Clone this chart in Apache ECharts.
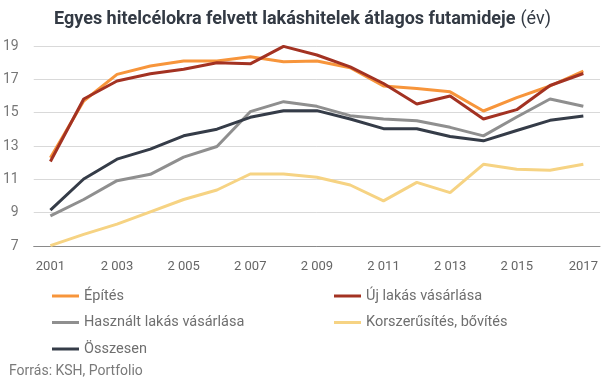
<!DOCTYPE html>
<html><head><meta charset="utf-8">
<script src="https://cdn.jsdelivr.net/npm/echarts@6/dist/echarts.min.js"></script>
<style>html,body{margin:0;padding:0;background:#fff}#c{width:605px;height:378px}</style>
</head><body><div id="c"></div>
<script>
const years = ['2001','2002','2003','2004','2005','2006','2007','2008','2009','2010','2011','2012','2013','2014','2015','2016','2017'];
const yearLabels = ['2001','2 002','2 003','2 004','2 005','2 006','2 007','2 008','2 009','2 010','2 011','2 012','2 013','2 014','2 015','2 016','2017'];
const epites = [12.3,15.7,17.3,17.8,18.1,18.1,18.35,18.05,18.1,17.7,16.6,16.45,16.25,15.1,15.9,16.6,17.5];
const ujLakas = [12.07,15.82,16.9,17.33,17.6,18.0,17.93,18.98,18.46,17.75,16.75,15.52,16.0,14.62,15.18,16.63,17.35];
const hasznalt = [8.81,9.79,10.92,11.3,12.33,12.97,15.06,15.66,15.38,14.82,14.62,14.52,14.12,13.61,14.74,15.82,15.38];
const korszerusites = [7.02,7.7,8.31,9.05,9.79,10.36,11.32,11.32,11.12,10.66,9.71,10.82,10.2,11.9,11.6,11.54,11.9];
const osszesen = [9.15,11.02,12.21,12.81,13.61,14.01,14.72,15.12,15.12,14.62,14.04,14.04,13.57,13.31,13.93,14.54,14.8];
const seriesNames = ['Építés','Új lakás vásárlása','Használt lakás vásárlása','Korszerűsítés, bővítés','Összesen'];
const seriesData = [epites, ujLakas, hasznalt, korszerusites, osszesen];
const colors = ['#f7953b','#a33222','#8f8f8f','#f6d383','#353c48'];

const chart = echarts.init(document.getElementById('c'));
const font = 'Roboto';
const legendText = {color:'#6f6f6f', fontSize:14.5, fontFamily:font, lineHeight:16};
chart.setOption({
  animation:false,
  backgroundColor:'#fff',
  title:[{
    text:'{b|Egyes hitelcélokra felvett lakáshitelek átlagos futamideje} {n|(év)}',
    left:'center', top:5,
    textStyle:{rich:{
      b:{fontFamily:font,fontWeight:'bold',fontSize:18,color:'#333a44'},
      n:{fontFamily:font,fontWeight:'normal',fontSize:18,color:'#333a44'}
    }}
  },{
    text:'Forrás: KSH, Portfolio', left:4, top:359,
    textStyle:{fontFamily:font,fontWeight:'normal',fontSize:14,color:'#7a7a7a'}
  }],
  legend:[{
    data:[seriesNames[0],seriesNames[2],seriesNames[4]],
    orient:'vertical', left:47, top:283, itemGap:10.5, itemWidth:27, itemHeight:3,
    icon:'rect', textStyle:legendText
  },{
    data:[seriesNames[1],seriesNames[3]],
    orient:'vertical', left:329, top:283, itemGap:10.5, itemWidth:27, itemHeight:3,
    icon:'rect', textStyle:legendText
  }],
  grid:{left:33, right:5, top:46, bottom:132, containLabel:false},
  xAxis:{
    type:'category', data:years, boundaryGap:true,
    axisLine:{lineStyle:{color:'#8a8a8a',width:1}},
    axisTick:{show:false},
    axisLabel:{interval:1, margin:14, color:'#666', fontSize:13, fontFamily:font,
      formatter:(v,i)=>yearLabels[i]}
  },
  yAxis:{
    type:'value', min:7, max:19, interval:2,
    axisLine:{show:false}, axisTick:{show:false},
    splitLine:{lineStyle:{color:'#d9d9d9',width:1}},
    axisLabel:{margin:15, color:'#777', fontSize:14, fontFamily:font}
  },
  series:seriesData.map((d,i)=>({
    name:seriesNames[i], type:'line', data:d, symbol:'none',
    lineStyle:{width:3,color:colors[i]}, itemStyle:{color:colors[i]}
  }))
});
</script></body></html>
